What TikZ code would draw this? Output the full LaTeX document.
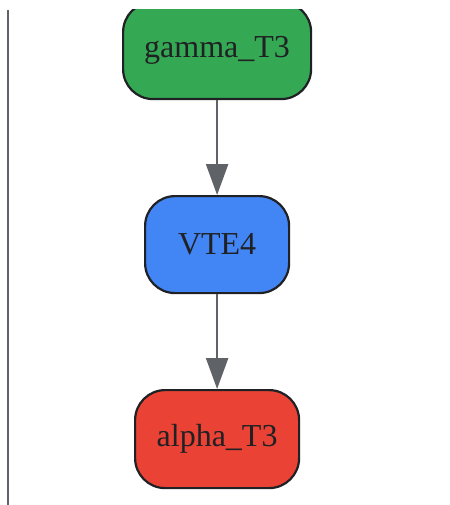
\documentclass[tikz,border=0pt]{standalone}
\usepackage{fontspec}
\setmainfont{Liberation Serif}
\usetikzlibrary{arrows.meta}
\definecolor{gGreen}{HTML}{34A853}
\definecolor{gBlue}{HTML}{4285F4}
\definecolor{gRed}{HTML}{EA4335}
\definecolor{edgeDark}{HTML}{202124}
\definecolor{lineGray}{HTML}{5F6368}
\tikzset{
  x=1pt,y=-1pt,
  nodebox/.style={draw=edgeDark,line width=2.2pt,rounded corners=30pt,text=edgeDark,
    font=\fontsize{32}{36}\selectfont,inner sep=0pt,anchor=north west},
  flow/.style={draw=lineGray,line width=2.4pt,-{Triangle[length=31pt,width=22pt]}},
}
\begin{document}
\begin{tikzpicture}
\useasboundingbox (0,0) rectangle (449,505);
\clip (0,10) rectangle (449,505);
\draw[lineGray,line width=2.5pt] (8,10) -- (8,505);
\node[nodebox,fill=gGreen,minimum width=188pt,minimum height=97pt] (g) at (122,1) {gamma\_T3};
\node[nodebox,fill=gBlue,minimum width=144pt,minimum height=97pt] (v) at (144,195) {VTE4};
\node[nodebox,fill=gRed,minimum width=164pt,minimum height=98pt] (a) at (134,389) {alpha\_T3};
\draw[flow] (g.south) -- (v.north);
\draw[flow] (v.south) -- (a.north);
\end{tikzpicture}
\end{document}
